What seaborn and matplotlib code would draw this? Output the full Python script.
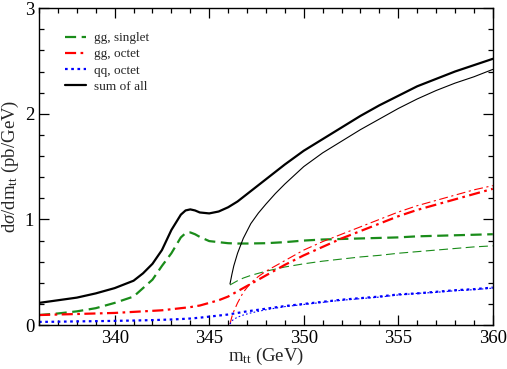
import numpy as np
import pandas as pd
import matplotlib
matplotlib.use("Agg")
import matplotlib.pyplot as plt
import seaborn as sns

# ---- data ----
m_full = [336, 337, 338, 339, 340, 341, 341.5, 342, 342.5, 343, 343.5, 343.75, 344, 344.25, 344.5, 345, 345.5,
          346, 346.5, 347, 348, 349, 350, 351, 352, 353, 354, 355, 356, 357, 358, 359, 360]
sum_full = [0.21, 0.235, 0.26, 0.30, 0.35, 0.42, 0.49, 0.58, 0.71, 0.90, 1.045, 1.085, 1.095, 1.085, 1.066, 1.057, 1.075,
            1.115, 1.17, 1.24, 1.38, 1.52, 1.65, 1.76, 1.87, 1.98, 2.08, 2.17, 2.26, 2.33, 2.40, 2.46, 2.52]
ggs_full = [0.095, 0.11, 0.13, 0.16, 0.21, 0.27, 0.35, 0.43, 0.56, 0.68, 0.83, 0.87, 0.877, 0.86, 0.835, 0.795, 0.785,
            0.775, 0.772, 0.772, 0.775, 0.785, 0.80, 0.81, 0.815, 0.82, 0.825, 0.83, 0.84, 0.845, 0.85, 0.855, 0.86]
ggo_full = [0.095, 0.10, 0.105, 0.11, 0.115, 0.125, 0.13, 0.135, 0.14, 0.15, 0.16, 0.165, 0.17, 0.178, 0.185, 0.21, 0.235,
            0.27, 0.32, 0.37, 0.47, 0.57, 0.66, 0.74, 0.82, 0.89, 0.96, 1.03, 1.09, 1.14, 1.19, 1.24, 1.29]
qqo_full = [0.03, 0.032, 0.035, 0.037, 0.04, 0.043, 0.045, 0.047, 0.05, 0.053, 0.057, 0.06, 0.062, 0.066, 0.07, 0.08, 0.09,
            0.10, 0.115, 0.13, 0.155, 0.18, 0.20, 0.22, 0.24, 0.255, 0.27, 0.29, 0.30, 0.315, 0.33, 0.34, 0.355]

m_thr = [346.1, 346.2, 346.3, 346.5, 346.8, 347.2, 347.6, 348, 348.5, 349, 350, 351, 352, 353,
         354, 355, 356, 357, 358, 359, 360]
sum_thr = [0.39, 0.48, 0.56, 0.68, 0.82, 0.96, 1.06, 1.145, 1.245, 1.335, 1.50, 1.63, 1.74, 1.85,
           1.95, 2.05, 2.14, 2.22, 2.29, 2.35, 2.42]
ggs_thr = [0.38, 0.39, 0.40, 0.42, 0.445, 0.47, 0.49, 0.51, 0.53, 0.55, 0.58, 0.605, 0.625, 0.645,
           0.66, 0.68, 0.695, 0.71, 0.725, 0.74, 0.75]
ggo_thr = [0.01, 0.08, 0.13, 0.21, 0.31, 0.40, 0.46, 0.51, 0.56, 0.61, 0.71, 0.79, 0.86, 0.93,
           1.00, 1.07, 1.13, 1.18, 1.23, 1.28, 1.32]
qqo_thr = [0.01, 0.04, 0.055, 0.075, 0.095, 0.115, 0.13, 0.145, 0.16, 0.175, 0.195, 0.215, 0.235, 0.25,
           0.265, 0.285, 0.30, 0.31, 0.325, 0.335, 0.35]

labels = ["gg, singlet", "gg, octet", "qq, octet", "sum of all"]
x_ticks = [340, 345, 350, 355, 360]
y_ticks = [0, 1, 2, 3]

# ---- style ----
sns.set_theme(style="ticks")
plt.rcParams["font.family"] = ["Liberation Serif", "DejaVu Serif"]
plt.rcParams["mathtext.fontset"] = "custom"
plt.rcParams["mathtext.rm"] = "Liberation Serif"
plt.rcParams["mathtext.it"] = "Liberation Serif:italic"

fig = plt.figure(figsize=(5.07, 3.69), dpi=100)
ax = fig.add_axes([0.077, 0.119, 0.895, 0.859])

full = pd.DataFrame({"m": m_full, "sum": sum_full, "ggs": ggs_full, "ggo": ggo_full, "qqo": qqo_full})
thr = pd.DataFrame({"m": m_thr, "sum": sum_thr, "ggs": ggs_thr, "ggo": ggo_thr, "qqo": qqo_thr})

specs = [("ggs", "#1a8c1a", (5, 2.5)),
         ("ggo", "#ff0000", (5, 2, 1.2, 2)),
         ("qqo", "#0000ff", (1.2, 1.6)),
         ("sum", "black", None)]

handles = []
for (col, color, dash), lab in zip(specs, labels):
    sns.lineplot(data=full, x="m", y=col, ax=ax, color=color, lw=1.6, label=lab,
                 legend=False, sort=False)
    ln = ax.lines[-1]
    if dash is not None:
        ln.set_dashes(dash)
    ln.set_solid_joinstyle("round")
    ln.set_dash_joinstyle("round")
    handles.append(ln)
    sns.lineplot(data=thr, x="m", y=col, ax=ax, color=color, lw=0.8,
                 legend=False, sort=False)
    ln2 = ax.lines[-1]
    ln2.set_solid_joinstyle("round")
    if dash is not None:
        ln2.set_dashes(tuple(d * 1.6 for d in dash) if col != "qqo" else (1.5, 2.0))

ax.set_xlim(336, 360)
ax.set_ylim(0, 3)
ax.set_xticks(x_ticks)
ax.set_yticks(y_ticks)
ax.set_xticks(np.arange(336, 361, 1), minor=True)
ax.set_yticks(np.arange(0, 3.01, 0.2), minor=True)
ax.tick_params(which="both", direction="in", top=True, right=True, colors="black",
               labelsize=13.5, width=0.9)
ax.tick_params(which="major", length=7)
ax.tick_params(which="minor", length=3.5)
for sp in ax.spines.values():
    sp.set_visible(True)
    sp.set_color("black")
    sp.set_linewidth(1.0)

ax.set_xlabel(r"m$_{\rm tt}$ (GeV)", fontsize=13.5, labelpad=-1)
ax.set_ylabel(r"d$\sigma$/dm$_{\rm tt}$ (pb/GeV)", fontsize=13.5, labelpad=3)

leg = ax.legend(handles=handles, labels=labels, loc="upper left", frameon=False,
                fontsize=9.5, handlelength=1.55, handletextpad=0.6, labelspacing=0.3,
                bbox_to_anchor=(0.058, 0.925), borderaxespad=0, borderpad=0)

fig.savefig("out.png", dpi=100)
